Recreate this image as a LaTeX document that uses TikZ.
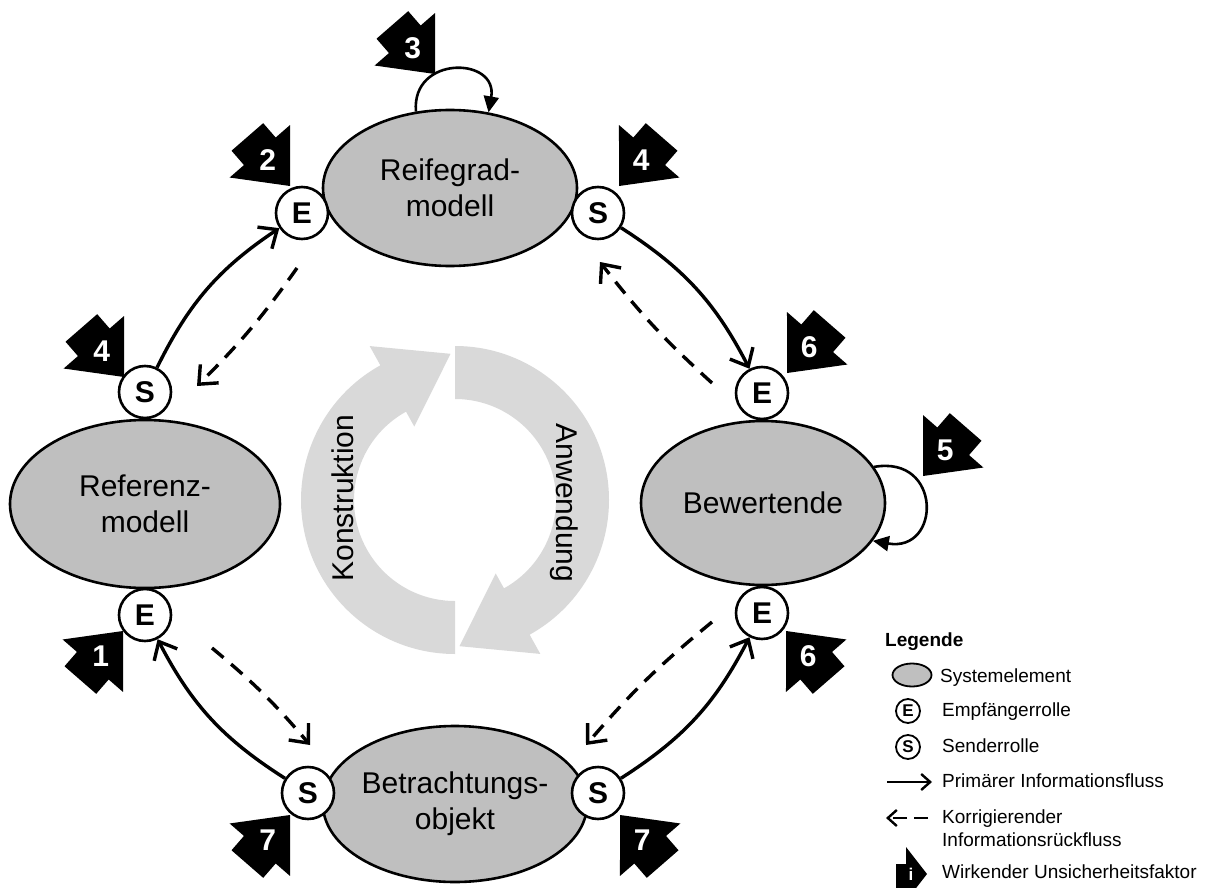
\documentclass[tikz,border=0pt]{standalone}
\usepackage{fontspec}
\setmainfont{Liberation Sans}
\usetikzlibrary{arrows.meta,shapes.geometric,calc}
\definecolor{cycgray}{HTML}{D9D9D9}
\definecolor{elgray}{HTML}{BFBFBF}
\tikzset{
  sysel/.style={ellipse, draw=black, line width=2.6pt, fill=elgray, inner sep=0pt, align=center, font=\fontsize{30}{36}\selectfont},
  role/.style={circle, draw=black, line width=2.6pt, fill=white, minimum size=52pt, inner sep=0pt, font=\fontsize{30}{30}\selectfont\bfseries},
  flow/.style={line width=3.4pt, -{Straight Barb[length=15pt,width=26pt]}},
  backflow/.style={flow, dash pattern=on 15pt off 10pt},
  loopflow/.style={line width=2.6pt, -{Triangle[length=16pt,width=15pt]}},
  badgenum/.style={text=white, font=\fontsize{30}{30}\selectfont\bfseries, inner sep=0pt},
  cyctext/.style={font=\fontsize{30}{30}\selectfont, inner sep=0pt},
  legtext/.style={anchor=west, font=\fontsize{19}{22}\selectfont, inner sep=0pt, text height=14pt, text depth=4pt},
  legrole/.style={circle, draw=black, line width=1.8pt, fill=white, minimum size=24pt, inner sep=0pt, font=\fontsize{17}{17}\selectfont\bfseries},
  legflow/.style={line width=2.4pt, -{Straight Barb[length=9pt,width=16pt]}},
}
\newcommand{\ubadge}[5]{%
  \begin{scope}[shift={(#2,-#3)}, rotate=#4]
    \fill[black] (0,0) -- (-46,40) -- (-46,21) -- (-65,21) -- (-65,-21) -- (-46,-21) -- (-46,-40) -- cycle;
    \node[badgenum] (#1) at (-34,0) {#5};
  \end{scope}}
\begin{document}
\begin{tikzpicture}[x=1pt,y=1pt]
\useasboundingbox (0,0) rectangle (1205,-888);

% central cycle
\begin{scope}[shift={(455,-500)}]
  \fill[cycgray] (270:154) arc[start angle=270, end angle=119, radius=154]
     -- (119:176) -- ($(119:130)+(29:67)$) -- (119:84) -- (119:101)
     arc[start angle=119, end angle=270, radius=101] -- cycle;
  \fill[cycgray] (90:154) arc[start angle=90, end angle=-61, radius=154]
     -- (-61:176) -- ($(-61:130)+(-151:67)$) -- (-61:84) -- (-61:101)
     arc[start angle=-61, end angle=90, radius=101] -- cycle;
  \node[cyctext, rotate=90, anchor=mid] (kon) at (-104,2) {Konstruktion};
  \node[cyctext, rotate=-90, anchor=mid] (anw) at (104,-3) {Anwendung};
\end{scope}

% system elements
\node[sysel, minimum width=254pt, minimum height=156pt] (rei) at (450,-188) {Reifegrad-\\modell};
\node[sysel, minimum width=270pt, minimum height=168pt] (ref) at (145,-504) {Referenz-\\modell};
\node[sysel, minimum width=244pt, minimum height=164pt] (bew) at (763,-503) {Bewertende};
\node[sysel, minimum width=250pt, minimum height=156pt] (bet) at (455,-804) {Betrachtungs-\\objekt};

% roles
\node[role] (eRei) at (302,-213) {E};
\node[role] (sRei) at (598,-213) {S};
\node[role] (sRef) at (145,-392) {S};
\node[role] (eRef) at (145,-615) {E};
\node[role] (eBewT) at (762,-393) {E};
\node[role] (eBewB) at (762,-613) {E};
\node[role] (sBetL) at (308,-793) {S};
\node[role] (sBetR) at (598,-793) {S};

% primary flows
\draw[flow] (sRef) to[bend left=15] (eRei);
\draw[flow] (sRei) to[bend left=15] (eBewT);
\draw[flow] (sBetR) to[bend right=15] (eBewB);
\draw[flow] (sBetL) to[bend left=15] (eRef);

% corrective back flows
\coordinate (d1s) at (297,-268); \coordinate (d1e) at (197,-386);
\coordinate (d2s) at (712,-383); \coordinate (d2e) at (600,-262);
\coordinate (d3s) at (212,-648); \coordinate (d3e) at (310,-745);
\coordinate (d4s) at (712,-622); \coordinate (d4e) at (586,-745);
\draw[backflow] (d1s) to[bend left=5] (d1e);
\draw[backflow] (d2s) to[bend left=5] (d2e);
\draw[backflow] (d3s) to[bend left=5] (d3e);
\draw[backflow] (d4s) to[bend right=5] (d4e);

% self loops
\draw[loopflow] (rei.114) to[out=95,in=80,looseness=2.0] (rei.63);
\draw[loopflow] (bew.18) to[out=10,in=-10,looseness=2.4] (bew.-19);

% uncertainty factors
\ubadge{b3}{435}{74}{-49}{3}
\ubadge{b2}{290}{186}{-49}{2}
\ubadge{b4r}{619}{186}{-131}{4}
\ubadge{b4l}{124}{377}{-49}{4}
\ubadge{b6t}{787}{373}{-131}{6}
\ubadge{b5}{923}{476}{-131}{5}
\ubadge{b6b}{786}{631}{131}{6}
\ubadge{b1}{123}{631}{49}{1}
\ubadge{b7l}{290}{815}{49}{7}
\ubadge{b7r}{620}{815}{131}{7}

% legend
\node[anchor=west, inner sep=0pt, font=\fontsize{19}{22}\selectfont\bfseries] (leg) at (885,-642) {Legende};
\node[ellipse, draw=black, line width=1.8pt, fill=elgray, minimum width=39pt, minimum height=23pt, inner sep=0pt] (lgSys) at (912,-675) {};
\node[legtext] (ltSys) at (940,-677) {Systemelement};
\node[legrole] (lgE) at (908,-711) {E};
\node[legtext] (ltE) at (942,-711) {Empfängerrolle};
\node[legrole] (lgS) at (908,-747) {S};
\node[legtext] (ltS) at (942,-747) {Senderrolle};
\coordinate (la1) at (887,-782); \coordinate (la2) at (932,-782);
\draw[legflow] (la1) -- (la2);
\node[legtext] (ltA) at (942,-782) {Primärer Informationsfluss};
\coordinate (lb1) at (928,-818); \coordinate (lb2) at (886,-818);
\draw[legflow, dash pattern=on 14pt off 7pt] (lb1) -- (lb2);
\node[legtext] (ltB1) at (942,-818) {Korrigierender};
\node[legtext] (ltB2) at (942,-841) {Informationsrückfluss};
\fill[black] (927,-874) -- (906,-847) -- (906,-864) -- (896,-864) -- (896,-888) -- (906,-888) -- (906,-901) -- cycle;
\node[text=white, inner sep=0pt, font=\fontsize{17}{17}\selectfont\bfseries] (lgI) at (911,-874) {i};
\node[legtext] (ltI) at (942,-873) {Wirkender Unsicherheitsfaktor};
\end{tikzpicture}
\end{document}
